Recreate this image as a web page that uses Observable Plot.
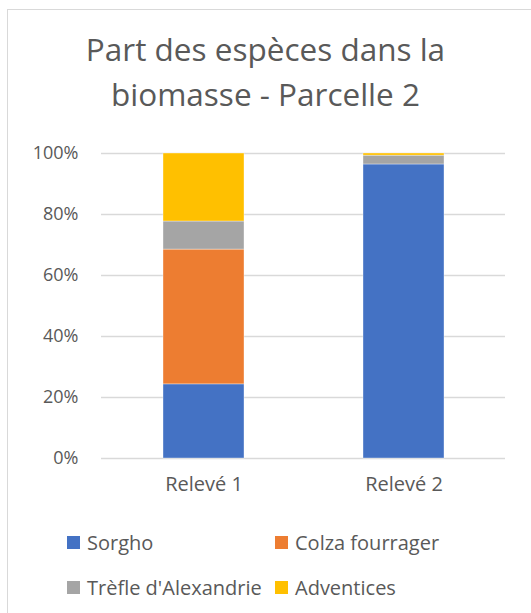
<!DOCTYPE html>
<html>
<head>
<meta charset="utf-8">
<script src="https://cdn.jsdelivr.net/npm/d3@7"></script>
<script src="https://cdn.jsdelivr.net/npm/@observablehq/plot@0.6"></script>
<style>
  html, body { margin: 0; padding: 0; background: #fff; }
  #frame { position: relative; width: 531px; height: 613px; overflow: hidden; font-family: "Open Sans", sans-serif; color: #595959; }
  #border { position: absolute; left: 7px; top: 9px; width: 600px; height: 700px; border-left: 1.5px solid #d9d9d9; border-top: 1.5px solid #d9d9d9; }
  #title { position: absolute; left: 0; width: 531px; top: 26px; text-align: center; font-size: 31.5px; line-height: 45px; font-weight: 400; }
  #chart { position: absolute; left: 0; top: 130px; }
  .leg { position: absolute; font-size: 20px; display: flex; align-items: center; white-space: nowrap; }
  .sw { width: 13px; height: 13px; margin-right: 7px; display: inline-block; }
</style>
</head>
<body>
<div id="frame">
  <div id="border"></div>
  <div id="title">Part des espèces dans la<br>biomasse - Parcelle 2</div>
  <div id="chart"></div>
  <div id="legend"></div>
</div>
<script>
const releves = ["Relevé 1", "Relevé 2"];
const especes = ["Sorgho", "Colza fourrager", "Trèfle d'Alexandrie", "Adventices"];
const couleurs = ["#4472C4", "#ED7D31", "#A5A5A5", "#FFC000"];
const sorgho = [24.3, 96.4];
const colza = [44.2, 0];
const trefle = [9.2, 2.9];
const adventices = [22.3, 0.7];
const yTicks = [0, 20, 40, 60, 80, 100];

const series = [sorgho, colza, trefle, adventices];
const data = [];
releves.forEach((r, i) => {
  especes.forEach((e, j) => data.push({releve: r, espece: e, valeur: series[j][i]}));
});

const plot = Plot.plot({
  width: 531,
  height: 380,
  marginLeft: 101,
  marginRight: 26,
  marginTop: 23,
  marginBottom: 52,
  style: {fontFamily: "'Open Sans', sans-serif", fontSize: "18px", color: "#595959", background: "transparent"},
  x: {domain: releves, paddingInner: 0.597, paddingOuter: 0.3035, label: null},
  y: {domain: [0, 100], label: null},
  color: {domain: especes, range: couleurs},
  marks: [
    Plot.ruleY(yTicks, {stroke: "#d9d9d9", strokeWidth: 1.5}),
    Plot.barY(data, {x: "releve", y: "valeur", fill: "espece", order: especes, stroke: "#fff", strokeWidth: 0.6, strokeOpacity: 0.6}),
    Plot.axisX({tickSize: 0, tickPadding: 18, fontSize: 20}),
    Plot.axisY({ticks: yTicks, tickFormat: d => d + "%", tickSize: 0, tickPadding: 23, fontSize: 18})
  ]
});
document.getElementById("chart").appendChild(plot);

const legend = document.getElementById("legend");
const pos = [[67, 542], [275, 542], [67, 587], [275, 587]];
especes.forEach((e, i) => {
  const d = document.createElement("div");
  d.className = "leg";
  d.style.left = pos[i][0] + "px";
  d.style.top = (pos[i][1] - 13) + "px";
  d.style.height = "26px";
  d.innerHTML = `<span class="sw" style="background:${couleurs[i]}"></span><span>${e}</span>`;
  legend.appendChild(d);
});
</script>
</body>
</html>
